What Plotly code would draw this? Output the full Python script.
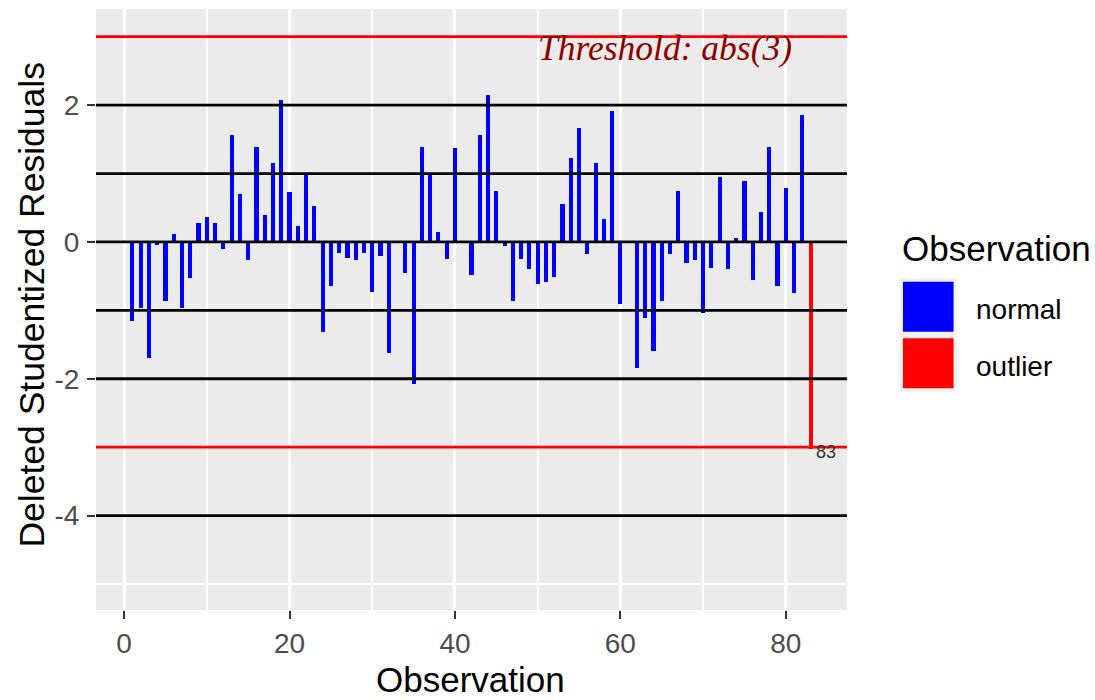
import plotly.graph_objects as go

# ---------------- data ----------------
observation = list(range(1, 84))
deleted_stud_resid = [
    -1.15, -0.96, -1.69, -0.04, -0.86, 0.11, -0.96, -0.53, 0.27, 0.37,
    0.27, -0.11, 1.57, 0.70, -0.27, 1.39, 0.40, 1.15, 2.08, 0.73,
    0.24, 0.98, 0.53, -1.31, -0.65, -0.155, -0.23, -0.27, -0.155, -0.73,
    -0.20, -1.62, 0.01, -0.45, -2.07, 1.39, 0.98, 0.145, -0.25, 1.37,
    -0.01, -0.49, 1.57, 2.155, 0.75, -0.06, -0.86, -0.25, -0.40, -0.62,
    -0.58, -0.51, 0.55, 1.22, 1.66, -0.18, 1.15, 0.33, 1.92, -0.91,
    0.01, -1.84, -1.11, -1.60, -0.86, -0.18, 0.75, -0.31, -0.27, -1.04,
    -0.38, 0.95, -0.40, 0.06, 0.89, -0.56, 0.44, 1.39, -0.65, 0.79,
    -0.74, 1.86, -3.03,
]
threshold = 3
reference_lines = [-4, -2, -1, 0, 1, 2]
groups = ["normal", "outlier"]
group_colors = {"normal": "#0000FF", "outlier": "#FF0000"}
x_ticks = [0, 20, 40, 60, 80]
x_minor = [10, 30, 50, 70]
y_ticks = [-4, -2, 0, 2]
y_tick_labels = ["-4", "-2", "0", "2"]
y_minor = [-5, -3, -1, 1, 3]

group_of = ["outlier" if abs(v) > threshold else "normal" for v in deleted_stud_resid]

# ---------------- geometry (px) ----------------
W, H = 1095, 700
PL, PR, PT, PB = 95.5, 847.3, 9, 610


def px(x):
    return (x - PL) / (PR - PL)


def py(y):
    return (PB - y) / (PB - PT)


fig = go.Figure()
for g in groups:
    xs = [o for o, gg in zip(observation, group_of) if gg == g]
    ys = [v for v, gg in zip(deleted_stud_resid, group_of) if gg == g]
    fig.add_trace(go.Bar(x=xs, y=ys, width=0.5, marker=dict(color=group_colors[g], line=dict(width=0)),
                         name=g, showlegend=False))

shapes = []
for v in reference_lines:
    shapes.append(dict(type="line", xref="paper", yref="y", x0=0, x1=1, y0=v, y1=v,
                       line=dict(color="black", width=2.8), layer="above"))
for v in (threshold, -threshold):
    shapes.append(dict(type="line", xref="paper", yref="y", x0=0, x1=1, y0=v, y1=v,
                       line=dict(color="#FF0000", width=2.8), layer="above"))

# legend (custom, ggplot-like)
shapes.append(dict(type="rect", xref="paper", yref="paper", x0=px(900), x1=px(957), y0=py(392), y1=py(278),
                   fillcolor="#F2F2F2", line=dict(width=0)))
shapes.append(dict(type="rect", xref="paper", yref="paper", x0=px(903.3), x1=px(954), y0=py(331.7), y1=py(281.7),
                   fillcolor=group_colors["normal"], line=dict(width=0)))
shapes.append(dict(type="rect", xref="paper", yref="paper", x0=px(903.3), x1=px(954), y0=py(388.3), y1=py(338.3),
                   fillcolor=group_colors["outlier"], line=dict(width=0)))

annotations = [
    dict(text="Threshold: abs(3)", xref="paper", yref="paper", x=px(794), y=py(48),
         xanchor="right", yanchor="middle", showarrow=False,
         font=dict(family="Liberation Serif", size=35.5, color="#8B0000", style="italic")),
    dict(text="83", xref="x", yref="y", x=observation[-1], y=deleted_stud_resid[-1],
         xanchor="left", yanchor="middle", xshift=3, yshift=-3, showarrow=False,
         font=dict(family="Liberation Sans", size=18, color="#333333")),
    dict(text="Observation", xref="paper", yref="paper", x=px(470), y=py(680),
         xanchor="center", yanchor="middle", showarrow=False,
         font=dict(family="Liberation Sans", size=35, color="black")),
    dict(text="Deleted Studentized Residuals", xref="paper", yref="paper", x=px(31), y=py(305),
         xanchor="center", yanchor="middle", textangle=-90, showarrow=False,
         font=dict(family="Liberation Sans", size=35.5, color="black")),
    dict(text="Observation", xref="paper", yref="paper", x=px(900), y=py(248),
         xanchor="left", yanchor="middle", showarrow=False,
         font=dict(family="Liberation Sans", size=35, color="black")),
    dict(text="normal", xref="paper", yref="paper", x=px(974), y=py(309),
         xanchor="left", yanchor="middle", showarrow=False,
         font=dict(family="Liberation Sans", size=28, color="black")),
    dict(text="outlier", xref="paper", yref="paper", x=px(974), y=py(366),
         xanchor="left", yanchor="middle", showarrow=False,
         font=dict(family="Liberation Sans", size=28, color="black")),
]

fig.update_layout(
    width=W, height=H,
    margin=dict(l=PL, r=W - PR, t=PT, b=H - PB, autoexpand=False),
    paper_bgcolor="white", plot_bgcolor="#EBEBEB",
    bargap=0, showlegend=False,
    shapes=shapes, annotations=annotations,
    font=dict(family="Liberation Sans"),
)
fig.update_xaxes(range=[-3.4, 87.4], tickvals=x_ticks, showgrid=True, gridcolor="white", gridwidth=3,
                 minor=dict(tickvals=x_minor, showgrid=True, gridcolor="white", gridwidth=1.8, ticks=""),
                 zeroline=False, showline=False, ticks="outside", ticklen=8, tickwidth=2, tickcolor="#333333",
                 tickfont=dict(size=28, color="#4D4D4D"), ticklabelstandoff=0)
fig.update_yaxes(range=[-5.38, 3.405], tickvals=y_ticks, ticktext=y_tick_labels, showgrid=True,
                 gridcolor="white", gridwidth=3,
                 minor=dict(tickvals=y_minor, showgrid=True, gridcolor="white", gridwidth=1.8, ticks=""),
                 zeroline=False, showline=False, ticks="outside", ticklen=8, tickwidth=2, tickcolor="#333333",
                 tickfont=dict(size=28, color="#4D4D4D"), ticklabelstandoff=2)

fig.write_html("out.html")
